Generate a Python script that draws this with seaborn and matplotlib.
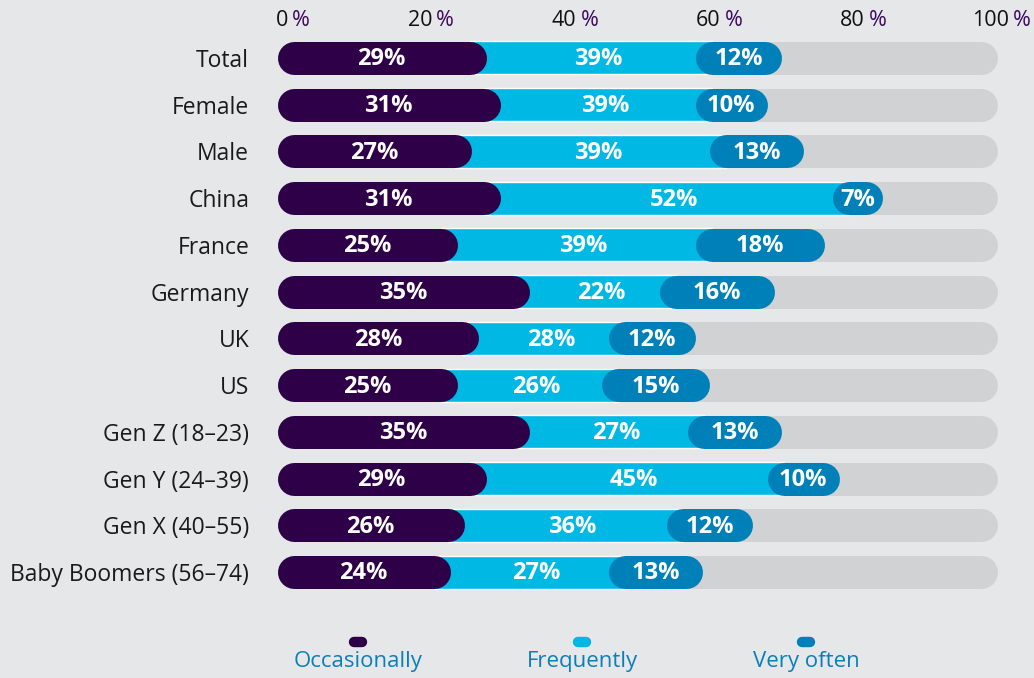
import numpy as np
import pandas as pd
import seaborn as sns
import matplotlib.pyplot as plt
from matplotlib.lines import Line2D

groups = ["Total", "Female", "Male", "China", "France", "Germany", "UK", "US",
          "Gen Z (18–23)", "Gen Y (24–39)", "Gen X (40–55)", "Baby Boomers (56–74)"]
occasionally = [29, 31, 27, 31, 25, 35, 28, 25, 35, 29, 26, 24]
frequently = [39, 39, 39, 52, 39, 22, 28, 26, 27, 45, 36, 27]
very_often = [12, 10, 13, 7, 18, 16, 12, 15, 13, 10, 12, 13]
# visible length of the "frequently" segment as drawn in the picture
frequently_drawn = [29, 27, 33, 46, 33, 18, 18, 20, 22, 39, 28, 22]
ticks = [0, 20, 40, 60, 80, 100]
series = ["Occasionally", "Frequently", "Very often"]

c_occ = "#2d0047"
c_freq = "#00b8e4"
c_vo = "#0080b8"
c_track = "#d1d2d4"
bg = "#e6e7e9"

sns.set_theme(style="white")
plt.rcParams['font.family'] = ['Open Sans', 'DejaVu Sans']

df = pd.DataFrame({"group": groups, "occ": occasionally, "freq": frequently,
                   "vo": very_often, "fd": frequently_drawn})

W, H = 1034, 678
fig = plt.figure(figsize=(W / 100, H / 100), dpi=100, facecolor=bg)
ax = fig.add_axes([277 / W, 1 - 595.4 / H, 721 / W, 560.8 / H])
ax.set_facecolor(bg)

bar_h = 0.707
lw = 33 * 72 / 100      # bar thickness in points
R = 16.5 / 7.21         # cap radius in data units


def pill(y, a, b, color, z):
    ax.plot([a + R, b - R], [y, y], color=color, lw=lw, solid_capstyle="round",
            zorder=z)


# frequently segment, square ends, partly hidden below the pills
sns.barplot(data=df, x=df.fd + 2 * R, y="group", left=df.occ - R, color=c_freq,
            saturation=1, width=bar_h, ax=ax, zorder=2)

for i, row in df.iterrows():
    pill(i, 0, 100, c_track, 1)
    vs = row.occ + row.fd
    pill(i, vs, vs + row.vo, c_vo, 3)
    pill(i, 0, row.occ, c_occ, 4)
    kw = dict(color="white", fontsize=17, fontweight="bold", ha="center",
              va="center", zorder=5)
    ax.text(row.occ / 2, i + 0.03, f"{row.occ}%", **kw)
    ax.text(row.occ + row.fd / 2 + 1, i + 0.03, f"{row.freq}%", **kw)
    ax.text(vs + row.vo / 2, i + 0.03, f"{row.vo}%", **kw)

ax.set_xlim(0, 100)
ax.set_ylim(11.5, -0.5)
ax.set_xlabel("")
ax.set_ylabel("")
ax.set_xticks([])
ax.tick_params(axis="y", length=0, pad=20, labelsize=16.5, labelcolor="#1a1a1a")
sns.despine(ax=ax, left=True, bottom=True)

# top axis labels: number in black, % in purple
ty = 1 - 21 / H
for t in ticks:
    ax.annotate(str(t), (t, ty), xycoords=("data", "figure fraction"),
                xytext=(11, 0), textcoords="offset pixels", ha="right",
                va="center", fontsize=15.5, color="#111111", annotation_clip=False)
    ax.annotate("%", (t, ty), xycoords=("data", "figure fraction"),
                xytext=(15, 0), textcoords="offset pixels", ha="left",
                va="center", fontsize=15.5, color="#3a0b5a", annotation_clip=False)

# legend
for x_c, name, col in zip([358, 582, 806], series, [c_occ, c_freq, c_vo]):
    fig.add_artist(Line2D([(x_c - 4) / W, (x_c + 4) / W], [1 - 642 / H] * 2,
                          transform=fig.transFigure, color=col, lw=7.5,
                          solid_capstyle="round"))
    fig.text(x_c / W, 1 - 662 / H, name, ha="center", va="center",
             fontsize=16, color="#0a80ba")

fig.savefig("out.png", dpi=100, facecolor=bg)
